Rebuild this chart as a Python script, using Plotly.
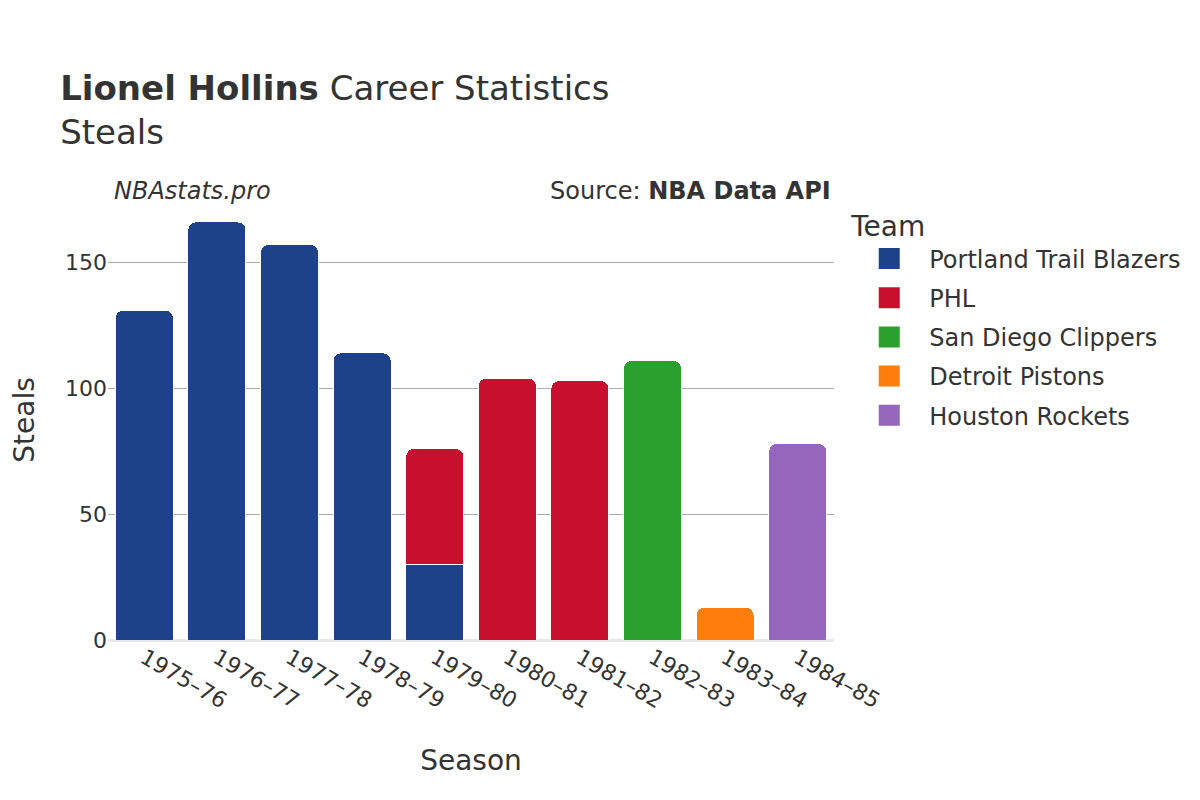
import plotly.graph_objects as go

# data
seasons = ["1975–76", "1976–77", "1977–78", "1978–79", "1979–80",
           "1980–81", "1981–82", "1982–83", "1983–84", "1984–85"]

teams = ["Portland Trail Blazers", "PHL", "San Diego Clippers",
         "Detroit Pistons", "Houston Rockets"]
team_colors = ["#1d428a", "#c8102e", "#2ca02c", "#ff7f0e", "#9467bd"]

por_seasons = ["1975–76", "1976–77", "1977–78", "1978–79", "1979–80"]
por_steals = [131, 166, 157, 114, 30]

phl_seasons = ["1979–80", "1980–81", "1981–82"]
phl_steals = [46, 104, 103]

sdc_seasons = ["1982–83"]
sdc_steals = [111]

det_seasons = ["1983–84"]
det_steals = [13]

hou_seasons = ["1984–85"]
hou_steals = [78]

series = [
    (por_seasons, por_steals),
    (phl_seasons, phl_steals),
    (sdc_seasons, sdc_steals),
    (det_seasons, det_steals),
    (hou_seasons, hou_steals),
]

font = "DejaVu Sans"

fig = go.Figure()
for name, color, (x, y) in zip(teams, team_colors, series):
    fig.add_trace(go.Bar(
        x=x, y=y, name=name, legendgroup=name, showlegend=False,
        marker=dict(color=color, line=dict(color="white", width=1)),
    ))
    # legend proxy with a bigger swatch
    fig.add_trace(go.Scatter(
        x=[None], y=[None], name=name, legendgroup=name, mode="markers",
        marker=dict(symbol="square", size=16, color=color,
                    line=dict(color=color, width=5)),
    ))

fig.update_layout(
    barmode="stack",
    bargap=0.2,
    barcornerradius=8,
    width=1200, height=800,
    plot_bgcolor="white",
    paper_bgcolor="white",
    font=dict(family=font, color="#333333", size=22),
    margin=dict(l=100, r=374, t=192, b=168, autoexpand=False),
    title=dict(
        text="<b>Lionel Hollins</b> Career Statistics<br>Steals",
        x=0.0435, xanchor="left", y=0.885, yanchor="top",
        font=dict(size=34, family=font, color="#333333"),
    ),
    legend=dict(
        title=dict(text="Team", font=dict(size=28)),
        x=1.021, y=1.0, xanchor="left", yanchor="top",
        font=dict(size=24), traceorder="grouped",
        tracegroupgap=5, itemwidth=70,
    ),
    xaxis=dict(
        title=dict(text="Season", font=dict(size=28), standoff=38),
        categoryorder="array", categoryarray=seasons,
        tickangle=30, showgrid=False,
    ),
    yaxis=dict(
        title=dict(text="Steals", font=dict(size=28), standoff=40),
        automargin=True,
        range=[0, 174.7],
        showgrid=True, gridcolor="#aaaaaa", gridwidth=1,
        zeroline=True, zerolinecolor="#e8e8e8", zerolinewidth=3,
        tickvals=[0, 50, 100, 150],
    ),
    annotations=[
        dict(text="<i>NBAstats.pro</i>", xref="paper", yref="paper",
             x=0.005, y=1.02, xanchor="left", yanchor="middle",
             showarrow=False, font=dict(size=24, color="#333333")),
        dict(text="Source: <b>NBA Data API</b>", xref="paper", yref="paper",
             x=0.999, y=1.02, xanchor="right", yanchor="middle",
             showarrow=False, font=dict(size=24, color="#333333")),
    ],
)

fig.write_html("out.html")
